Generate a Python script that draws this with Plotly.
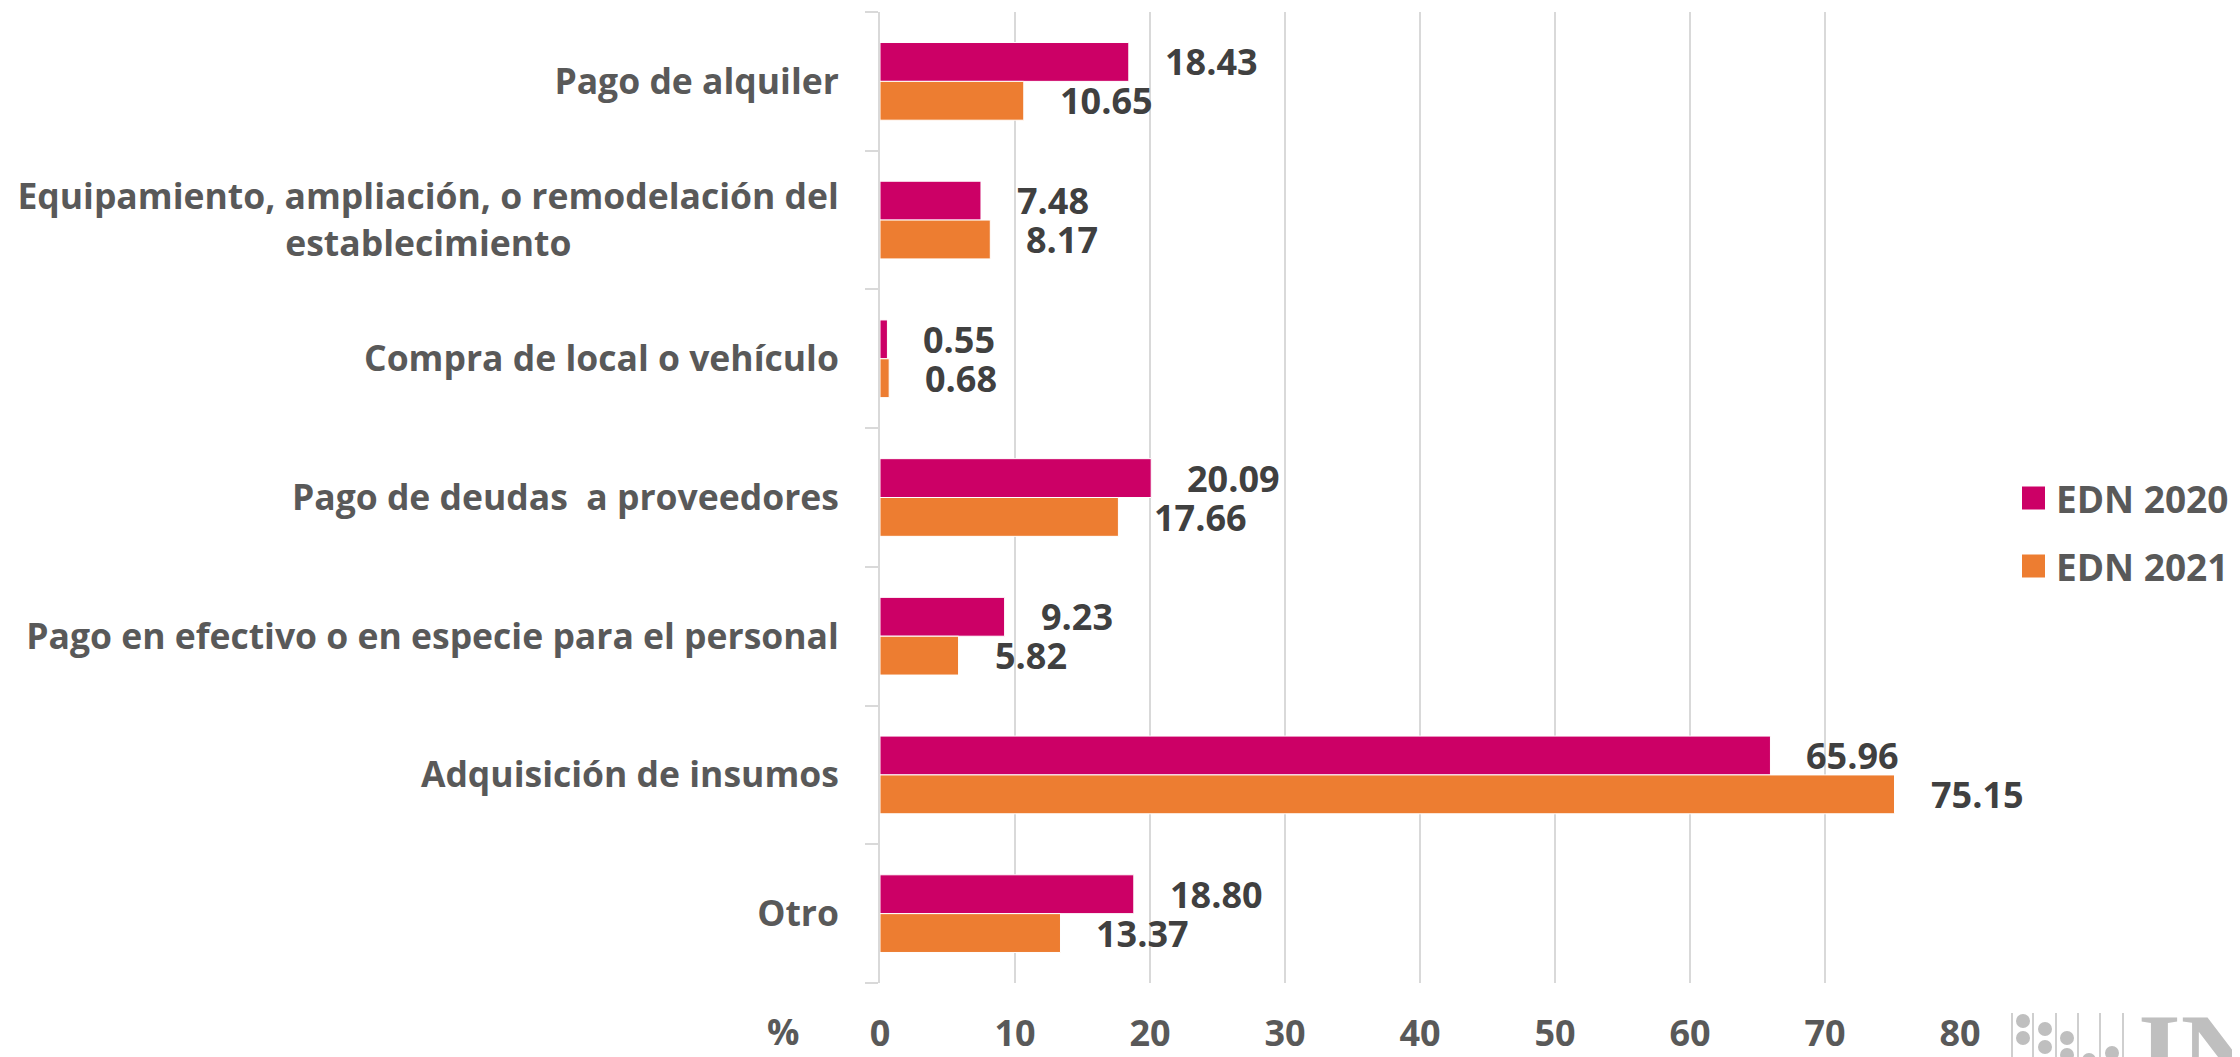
################################################################################
# Libraries
################################################################################
import plotly.graph_objects as go
################################################################################
# Data
################################################################################
categories = ["Pago de alquiler",
              "Equipamiento, ampliación, o remodelación del establecimiento",
              "Compra de local o vehículo",
              "Pago de deudas \u00a0a proveedores",
              "Pago en efectivo o en especie para el personal",
              "Adquisición de insumos",
              "Otro"]
# the long label wraps onto a second line, centred under the first
tickLabels = list(categories)
tickLabels[1] = "Equipamiento, ampliación, o remodelación del<br>establecimiento" + "\u00a0" * 29
edn2020 = [18.43, 7.48, 0.55, 20.09, 9.23, 65.96, 18.80]
edn2021 = [10.65, 8.17, 0.68, 17.66, 5.82, 75.15, 13.37]
seriesNames = ["EDN 2020", "EDN 2021"]
seriesColors = ["#CC0066", "#ED7D31"]
xTicks = [0, 10, 20, 30, 40, 50, 60, 70, 80]
################################################################################
# Config
################################################################################
W, H = 2240, 1057
OFF = 8  # page body margin
L, R, T, B = 880 - OFF, 1960 - OFF, 12 - OFF, 983 - OFF
FONT = "Open Sans"
labelSize = 36
catSize = 35.5
def px(x):
	return (x - OFF - L) / (R - L)
def py(y):
	return (B - (y - OFF)) / (B - T)
################################################################################
# Plot
################################################################################
fig = go.Figure()
for name, vals, col in zip(seriesNames, [edn2020, edn2021], seriesColors):
	fig.add_trace(go.Bar(y=categories, x=vals, name=name, orientation="h",
	                     marker=dict(color=col, line=dict(color="white", width=1)),
	                     showlegend=False))
annotations = []
for vals, shift in zip([edn2020, edn2021], [19.5, -19.5]):
	for cat, v in zip(categories, vals):
		annotations.append(dict(x=v, y=cat, xref="x", yref="y", text="%.2f" % v,
		                        showarrow=False, xanchor="left", xshift=34, yshift=shift,
		                        font=dict(family=FONT, size=labelSize, color="#404040", weight="bold")))
# "%" label
annotations.append(dict(x=px(783), y=py(1031), xref="paper", yref="paper", text="%",
                        showarrow=False, xanchor="center", yanchor="middle",
                        font=dict(family=FONT, size=labelSize, color="#595959", weight="bold")))
# legend
shapes = []
for i, (name, col) in enumerate(zip(seriesNames, seriesColors)):
	yc = 498 + 68 * i
	shapes.append(dict(type="rect", xref="paper", yref="paper", x0=px(2022), x1=px(2045),
	                   y0=py(yc + 11.5), y1=py(yc - 11.5), fillcolor=col, line=dict(width=0)))
	annotations.append(dict(x=px(2054), y=py(yc), xref="paper", yref="paper", text=name,
	                        showarrow=False, xanchor="left", yanchor="middle",
	                        font=dict(family=FONT, size=37, color="#595959", weight="bold")))
# logo (partial)
for xl in [2012, 2033, 2056, 2078, 2100, 2123]:
	shapes.append(dict(type="line", xref="paper", yref="paper", x0=px(xl), x1=px(xl),
	                   y0=py(1013), y1=py(1070), line=dict(color="#BFBFBF", width=1.5)))
for cx, cy in [(2023, 1021), (2023, 1038), (2045, 1029), (2045, 1047), (2067, 1038), (2067, 1055), (2089, 1060), (2112, 1053)]:
	shapes.append(dict(type="circle", xref="paper", yref="paper", x0=px(cx - 7), x1=px(cx + 7),
	                   y0=py(cy + 7), y1=py(cy - 7), fillcolor="#BFBFBF", line=dict(width=0)))
annotations.append(dict(x=px(2136), y=py(990), xref="paper", yref="paper", text="INEGI",
                        showarrow=False, xanchor="left", yanchor="top",
                        font=dict(family="Liberation Sans Narrow", size=110, color="#BFBFBF", weight="bold")))
fig.update_layout(width=W, height=H, plot_bgcolor="white", paper_bgcolor="white",
                  margin=dict(l=L, r=W - R, t=T, b=H - B, pad=0),
                  barmode="group", bargap=0.44, bargroupgap=0,
                  annotations=annotations, shapes=shapes, showlegend=False,
                  font=dict(family=FONT, color="#595959"))
fig.update_xaxes(range=[0, 80], tickvals=xTicks, showgrid=True, gridcolor="#D9D9D9", gridwidth=2,
                 zeroline=False, showline=False, ticks="", ticklabelstandoff=26, automargin=False,
                 tickfont=dict(family=FONT, size=labelSize, color="#595959", weight="bold"))
fig.update_yaxes(autorange="reversed", showline=True, linecolor="#D9D9D9", linewidth=2,
                 tickmode="array", tickvals=categories, ticktext=tickLabels,
                 ticks="outside", tickson="boundaries", ticklen=13, tickcolor="#D9D9D9", tickwidth=2,
                 ticklabelstandoff=32, automargin=False,
                 tickfont=dict(family=FONT, size=catSize, color="#595959", weight="bold"))
fig.write_html("out.html")
